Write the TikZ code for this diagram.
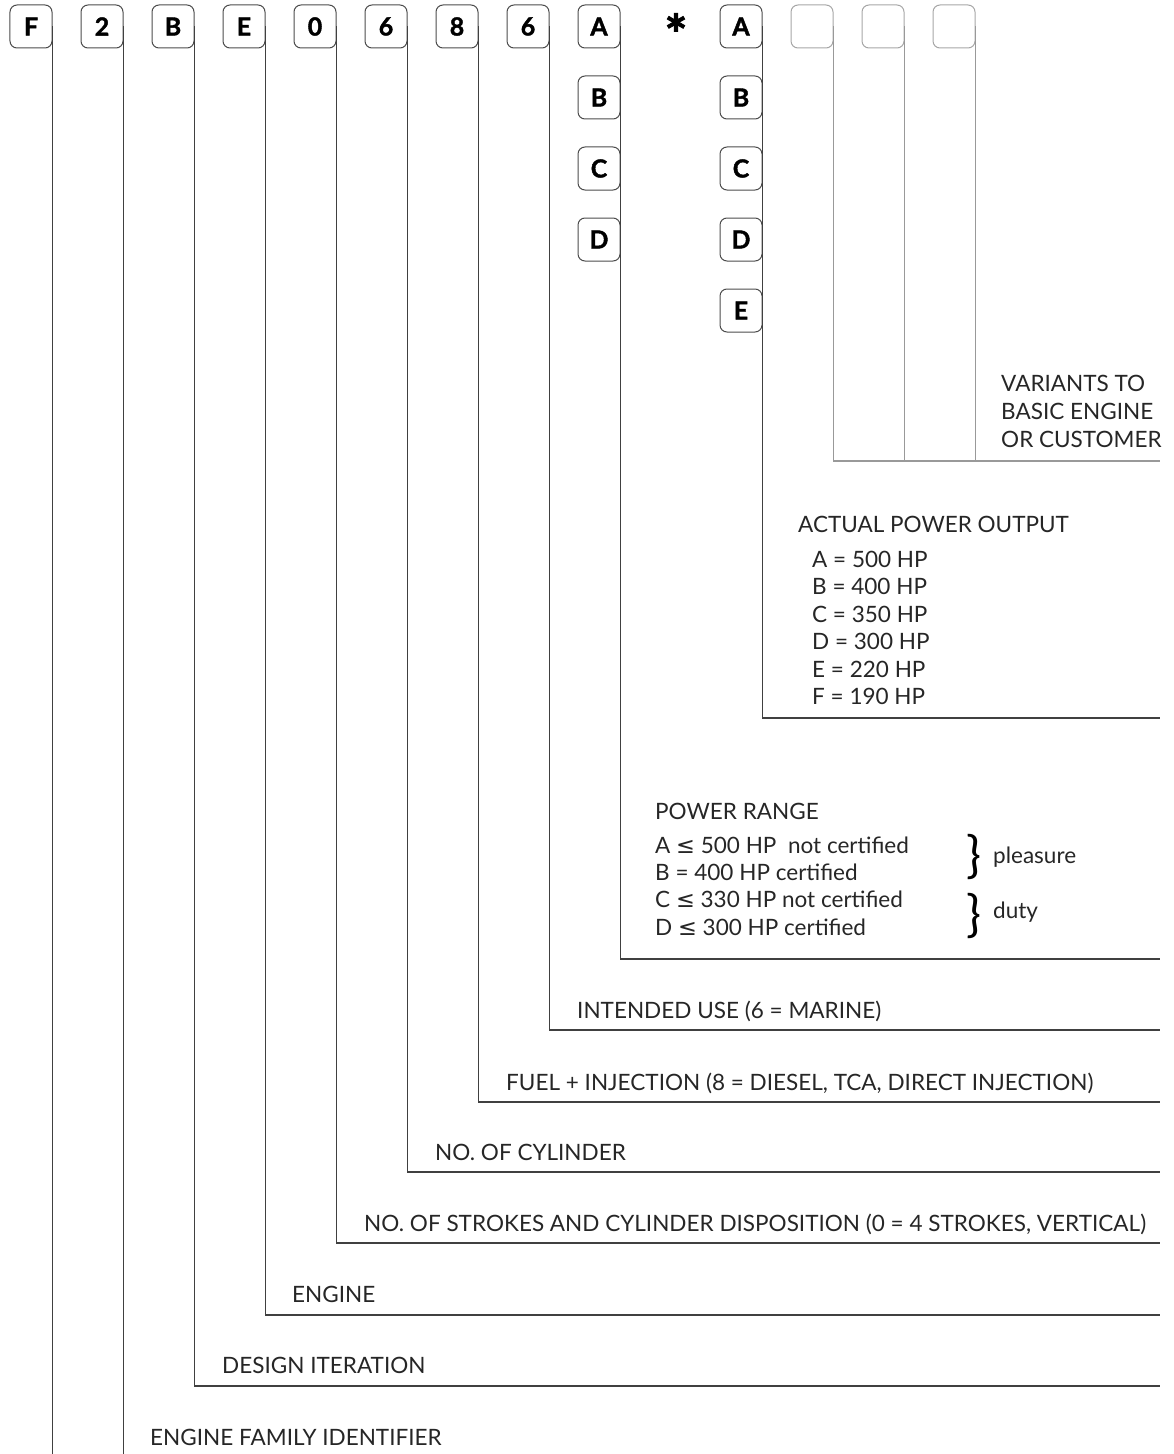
\documentclass[tikz,border=0pt]{standalone}
\usepackage{fontspec}
\setmainfont{Lato}
\newfontfamily\heavy{Lato}[BoldFeatures={FakeBold=1.6}]
\newfontfamily\dejavu{DejaVu Sans}
\newcommand\lesym{{\dejavu ≤}}
\usetikzlibrary{calc}
\begin{document}
\begin{tikzpicture}[x=1bp,y=-1bp,
  key/.style={draw=black!70, rounded corners=7bp, minimum width=42bp, minimum height=43bp, inner sep=0pt, line width=1bp, font=\fontsize{25}{25}\heavy\bfseries},
  blank/.style={key, draw=black!35},
  lead/.style={draw=black!75, line width=1.3bp},
  blead/.style={draw=black!40, line width=1.3bp},
  lbl/.style={anchor=base west, inner sep=0pt, text=black!85, font=\fontsize{22.6}{22.6}\selectfont},
  brc/.style={anchor=center, inner sep=0pt, text=black, font=\fontsize{50}{50}\selectfont},
]
\useasboundingbox (0,0) rectangle (1173,1454);
\coordinate (bottom) at (0,1454);

% top row of code boxes
\node[key] (kF) at (31,26.5) {F};
\node[key] (k2) at (102,26.5) {2};
\node[key] (kB) at (173,26.5) {B};
\node[key] (kE) at (244,26.5) {E};
\node[key] (k0) at (315,26.5) {0};
\node[key] (k6) at (386,26.5) {6};
\node[key] (k8) at (457,26.5) {8};
\node[key] (kU) at (528,26.5) {6};
\node[key] (pA) at (599,26.5) {A};
\node[key] (pB) at (599,97.5) {B};
\node[key] (pC) at (599,168.5) {C};
\node[key] (pD) at (599,239.5) {D};
\node[anchor=north, inner sep=0pt, font=\fontsize{54}{54}\heavy\bfseries] (ast) at (676,13) {*};
\node[key] (aA) at (741,26.5) {A};
\node[key] (aB) at (741,97.5) {B};
\node[key] (aC) at (741,168.5) {C};
\node[key] (aD) at (741,239.5) {D};
\node[key] (aE) at (741,310.5) {E};
\node[blank] (v1) at (812,26.5) {};
\node[blank] (v2) at (883,26.5) {};
\node[blank] (v3) at (954,26.5) {};

% end points of the leaders
\coordinate (eV) at (1160,461);
\coordinate (eA) at (1160,718);
\coordinate (eP) at (1160,959);
\coordinate (eU) at (1160,1030);
\coordinate (e8) at (1160,1102);
\coordinate (e6) at (1160,1172);
\coordinate (e0) at (1160,1243);
\coordinate (eE) at (1160,1315);
\coordinate (eB) at (1160,1386);

% leaders
\draw[lead] (kF.east) -- (kF.east |- bottom);
\draw[lead] (k2.east) -- (k2.east |- bottom);
\draw[lead] (kB.east) |- (eB);
\draw[lead] (kE.east) |- (eE);
\draw[lead] (k0.east) |- (e0);
\draw[lead] (k6.east) |- (e6);
\draw[lead] (k8.east) |- (e8);
\draw[lead] (kU.east) |- (eU);
\draw[lead] (pA.east) |- (eP);
\draw[lead] (aA.east) |- (eA);
\draw[blead] (v1.east) |- (eV);
\draw[blead] (v2.east) -- (v2.east |- eV);
\draw[blead] (v3.east) -- (v3.east |- eV);

% labels
\node[lbl] (t1) at (1001,391) {VARIANTS TO};
\node[lbl] (t2) at (1001,419) {BASIC ENGINE};
\node[lbl] (t3) at (1001,447) {OR CUSTOMER};

\node[lbl] (ap) at (798,532) {ACTUAL POWER OUTPUT};
\node[lbl] (ap1) at (812,567) {A = 500 HP};
\node[lbl] (ap2) at (812,594.5) {B = 400 HP};
\node[lbl] (ap3) at (812,622) {C = 350 HP};
\node[lbl] (ap4) at (812,649.5) {D = 300 HP};
\node[lbl] (ap5) at (812,677) {E = 220 HP};
\node[lbl] (ap6) at (812,704.5) {F = 190 HP};

\node[lbl] (pr) at (655,819) {POWER RANGE};
\node[lbl] (pr1) at (655,853) {A \lesym{} 500 HP\ \ not certified};
\node[lbl] (pr2) at (655,880) {B = 400 HP certified};
\node[lbl] (pr3) at (655,907) {C \lesym{} 330 HP not certified};
\node[lbl] (pr4) at (655,935) {D \lesym{} 300 HP certified};
\node[brc] (b1) at (974,857) {\}};
\node[brc] (b2) at (974,916) {\}};
\node[lbl] (pl) at (993,863) {pleasure};
\node[lbl] (du) at (993,918) {duty};

\node[lbl] (lU) at (577,1018) {INTENDED USE (6 = MARINE)};
\node[lbl] (l8) at (506,1090) {FUEL + INJECTION (8 = DIESEL, TCA, DIRECT INJECTION)};
\node[lbl] (l6) at (435,1160) {NO. OF CYLINDER};
\node[lbl] (l0) at (364,1231) {NO. OF STROKES AND CYLINDER DISPOSITION (0 = 4 STROKES, VERTICAL)};
\node[lbl] (lE) at (292,1302) {ENGINE};
\node[lbl] (lB) at (222,1373) {DESIGN ITERATION};
\node[lbl] (lF) at (150,1445) {ENGINE FAMILY IDENTIFIER};
\end{tikzpicture}
\end{document}
